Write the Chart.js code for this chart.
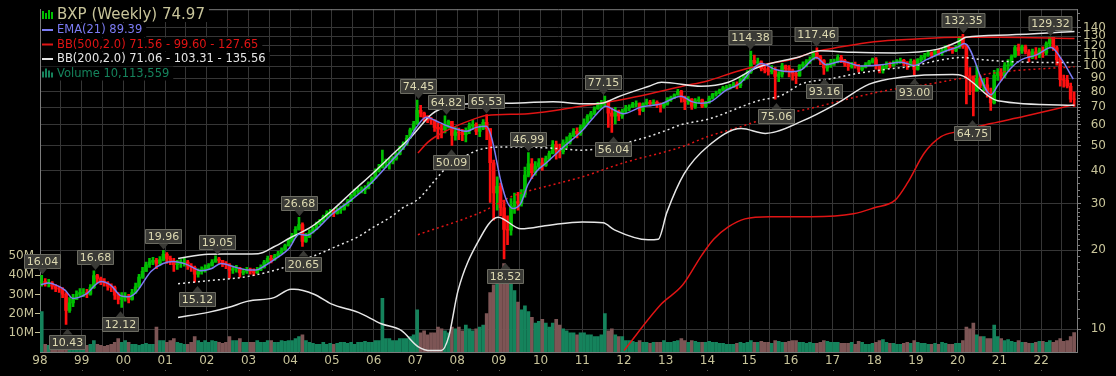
<!DOCTYPE html>
<html>
<head>
<meta charset="utf-8">
<script src="https://cdn.jsdelivr.net/npm/chart.js@4"></script>
<style>
  html, body { margin: 0; padding: 0; background: #000; }
  #wrap { width: 1116px; height: 376px; }
</style>
</head>
<body>
<div id="wrap"><canvas id="chart"></canvas></div>
<script>
const startYear = 1998;

const closes = [
  15.2, 15.0, 15.0, 14.6, 14.3, 14.2, 13.6, 11.8, 12.6, 13.0, 13.6, 13.8,
  13.8, 13.6, 14.4, 16.0, 15.6, 15.2, 15.0, 14.6, 14.4, 13.5, 13.0, 13.2,
  13.3, 13.0, 13.8, 14.5, 15.8, 16.6, 17.6, 18.0, 18.3, 17.8, 18.4, 19.3,
  18.6, 18.2, 17.6, 17.8, 17.9, 18.0, 17.4, 17.2, 16.2, 16.6, 16.9, 17.1,
  17.5, 18.0, 18.5, 18.3, 17.8, 17.6, 16.8, 17.0, 17.1, 16.4, 16.6, 16.8,
  16.6, 16.4, 16.8, 17.2, 18.0, 18.6, 18.4, 19.0, 19.4, 20.0, 20.8, 21.6,
  22.6, 24.0, 25.0, 21.6, 22.6, 23.4, 24.0, 25.2, 25.8, 26.8, 27.6, 28.0,
  27.6, 28.4, 28.6, 29.6, 30.8, 32.2, 33.4, 33.8, 34.0, 34.4, 36.0, 37.6,
  40.0, 41.2, 42.8, 43.0, 43.4, 44.6, 46.2, 48.8, 50.6, 53.4, 57.4, 60.4,
  68.0, 66.4, 64.0, 63.0, 62.4, 58.6, 57.8, 57.4, 60.0, 61.8, 54.6, 56.2,
  56.0, 55.0, 56.8, 59.4, 60.2, 56.6, 58.2, 61.2, 58.0, 43.0, 33.0, 35.0,
  29.0, 24.0, 23.8, 29.4, 30.6, 30.2, 32.6, 38.6, 42.6, 39.4, 41.6, 43.0,
  42.0, 44.6, 46.6, 50.4, 48.0, 47.4, 51.2, 51.6, 54.6, 56.6, 55.4, 58.6,
  61.0, 64.6, 66.4, 69.0, 71.6, 72.4, 73.4, 66.4, 64.6, 67.4, 64.8, 67.6,
  69.4, 70.0, 71.8, 72.2, 68.0, 72.0, 73.2, 72.0, 73.0, 71.6, 70.6, 72.0,
  75.0, 76.0, 78.0, 80.4, 75.6, 73.4, 75.0, 70.4, 74.0, 74.6, 70.6, 72.8,
  75.6, 78.4, 79.2, 81.0, 82.8, 83.0, 83.4, 85.6, 84.4, 89.0, 91.6, 95.0,
  105.4, 103.0, 104.0, 98.0, 97.0, 95.4, 96.6, 91.6, 93.4, 100.4, 98.0, 96.4,
  94.0, 92.0, 100.6, 102.0, 104.6, 106.2, 112.4, 108.6, 105.2, 98.6, 101.0, 103.6,
  104.0, 108.0, 105.4, 102.6, 99.8, 101.4, 100.6, 97.4, 99.2, 101.6, 104.0, 106.2,
  100.6, 96.4, 99.8, 101.2, 100.8, 103.2, 104.6, 105.4, 102.6, 101.0, 104.4, 97.4,
  106.0, 108.4, 110.2, 112.6, 110.6, 114.0, 112.6, 114.8, 118.0, 117.6, 115.0, 118.4,
  128.0, 119.0, 92.0, 90.6, 80.4, 90.0, 84.6, 85.0, 79.0, 72.6, 92.4, 94.6,
  92.0, 100.6, 101.4, 109.0, 117.8, 114.6, 118.6, 113.6, 108.4, 113.6, 110.4, 115.2,
  112.4, 122.0, 128.8, 117.6, 106.0, 89.0, 88.6, 84.0, 75.0, 74.97
];

const highs = [
  16.04, 15.6, 15.5, 15.2, 14.8, 14.6, 14.4, 13.8, 13.2, 13.6, 14.0, 14.3,
  14.3, 14.2, 14.8, 16.68, 16.2, 15.8, 15.6, 15.2, 14.9, 14.6, 13.8, 13.8,
  13.8, 13.6, 14.2, 15.0, 16.2, 17.2, 18.0, 18.6, 18.8, 18.6, 18.9, 19.96,
  19.6, 19.0, 18.6, 18.3, 18.4, 18.6, 18.3, 17.8, 17.4, 17.0, 17.3, 17.6,
  17.8, 18.4, 19.05, 18.8, 18.3, 18.1, 17.8, 17.4, 17.5, 17.2, 17.0, 17.2,
  17.1, 17.0, 17.2, 17.6, 18.3, 19.0, 19.1, 19.3, 19.8, 20.4, 21.1, 22.0,
  23.2, 24.6, 26.68, 25.4, 23.2, 23.9, 24.5, 25.6, 26.2, 27.2, 28.2, 28.6,
  28.6, 29.0, 29.4, 30.0, 31.2, 32.6, 34.0, 34.6, 34.8, 35.2, 36.4, 38.0,
  40.8, 42.4, 48.0, 44.4, 44.8, 45.4, 47.0, 49.6, 51.6, 54.6, 58.2, 61.8,
  74.45, 71.0, 67.0, 65.0, 64.0, 62.6, 61.0, 60.2, 64.82, 62.4, 60.8, 58.6,
  58.2, 57.6, 58.4, 61.0, 62.4, 61.0, 60.0, 62.8, 65.53, 58.0, 44.0, 38.0,
  36.0, 31.0, 27.0, 31.4, 33.0, 33.2, 34.0, 41.4, 46.99, 44.6, 43.4, 44.6,
  44.8, 45.6, 47.6, 52.2, 52.0, 50.6, 52.6, 54.0, 55.8, 58.0, 58.4, 59.8,
  63.2, 65.6, 67.4, 70.2, 73.0, 74.2, 77.15, 74.0, 69.4, 69.8, 68.2, 68.8,
  71.0, 71.4, 73.0, 74.0, 72.6, 72.6, 75.0, 74.2, 74.6, 74.0, 72.6, 73.0,
  76.0, 77.0, 78.6, 81.8, 81.0, 77.0, 76.8, 75.4, 75.4, 76.6, 75.0, 73.6,
  77.0, 79.0, 80.6, 82.0, 84.0, 84.6, 85.4, 87.2, 87.4, 90.4, 93.2, 96.4,
  114.38, 110.4, 107.4, 105.0, 101.0, 99.8, 100.6, 99.0, 95.6, 102.6, 101.0, 100.6,
  97.6, 95.0, 101.6, 104.0, 106.0, 108.6, 114.6, 117.46, 110.2, 106.0, 102.6, 106.4,
  106.6, 110.6, 110.0, 106.4, 104.0, 103.6, 103.8, 101.8, 100.6, 103.4, 105.4, 107.4,
  108.0, 101.4, 101.0, 104.0, 103.8, 105.0, 106.2, 107.4, 106.4, 104.2, 106.6, 105.8,
  107.0, 110.0, 112.0, 115.0, 113.6, 115.4, 116.0, 116.6, 120.0, 120.6, 118.4, 120.2,
  130.0, 132.35, 121.0, 99.0, 92.0, 100.4, 92.0, 89.8, 90.6, 82.6, 96.6, 98.0,
  98.0, 103.4, 106.0, 110.6, 120.0, 121.6, 120.4, 120.4, 115.8, 116.4, 117.8, 117.2,
  118.6, 124.0, 129.32, 129.0, 119.4, 108.0, 92.6, 92.4, 86.4, 80.0
];

const lows = [
  14.6, 14.6, 14.5, 14.2, 13.9, 13.8, 13.2, 10.43, 11.6, 12.2, 13.0, 13.3,
  13.3, 13.2, 13.5, 14.3, 15.0, 14.8, 14.6, 14.1, 13.9, 13.0, 12.5, 12.12,
  12.8, 12.6, 12.9, 13.7, 14.4, 15.6, 16.6, 17.2, 17.6, 17.0, 17.5, 18.2,
  17.8, 17.6, 16.6, 16.9, 17.2, 17.4, 16.9, 16.6, 15.12, 15.8, 16.2, 16.5,
  16.9, 17.4, 18.0, 17.8, 17.3, 17.0, 15.6, 16.3, 16.5, 15.8, 16.1, 16.3,
  16.2, 16.0, 16.3, 16.7, 17.1, 17.8, 17.9, 18.3, 18.8, 19.3, 20.0, 20.7,
  21.4, 22.4, 23.8, 20.65, 21.4, 22.3, 23.2, 24.0, 25.0, 25.6, 26.4, 27.0,
  26.8, 27.4, 27.6, 28.4, 29.4, 30.6, 32.0, 32.8, 33.0, 32.8, 34.2, 35.8,
  37.6, 39.6, 41.0, 41.2, 40.6, 42.6, 44.0, 46.0, 48.2, 50.2, 53.2, 56.8,
  60.2, 64.2, 61.8, 61.0, 60.2, 56.6, 53.0, 53.4, 55.8, 58.2, 50.09, 52.4,
  52.6, 52.2, 51.6, 55.4, 57.6, 55.0, 54.0, 57.4, 52.6, 30.4, 26.0, 28.4,
  27.0, 18.52, 21.0, 22.8, 27.6, 28.4, 29.4, 31.8, 38.0, 37.4, 38.6, 40.8,
  40.2, 41.6, 44.0, 46.4, 44.4, 44.8, 46.4, 49.0, 50.6, 54.0, 53.4, 54.6,
  58.0, 60.4, 63.0, 65.4, 68.6, 69.0, 70.6, 58.6, 56.04, 60.4, 62.2, 63.4,
  66.6, 67.8, 69.6, 70.2, 65.4, 67.2, 71.2, 70.6, 71.0, 69.6, 67.0, 69.4,
  71.2, 73.6, 75.4, 77.6, 73.0, 68.4, 71.6, 68.6, 69.2, 72.2, 69.6, 69.8,
  72.2, 75.0, 77.0, 78.6, 80.6, 81.2, 81.8, 83.0, 82.0, 83.0, 88.2, 89.6,
  94.0, 101.6, 100.4, 96.0, 94.4, 92.6, 93.6, 75.06, 87.4, 91.0, 95.2, 91.2,
  88.6, 86.0, 91.6, 98.2, 99.4, 102.6, 105.8, 106.8, 101.4, 93.16, 95.8, 99.0,
  100.8, 103.0, 103.2, 100.0, 96.4, 98.4, 98.4, 95.0, 96.0, 98.6, 100.8, 102.8,
  97.6, 94.4, 94.2, 97.8, 98.6, 100.0, 102.0, 102.6, 100.6, 97.4, 100.0, 93.00,
  96.6, 104.0, 106.0, 109.0, 107.6, 109.4, 110.6, 110.0, 113.4, 114.4, 112.0, 113.6,
  117.0, 117.0, 72.0, 78.0, 64.75, 80.6, 83.0, 80.6, 76.4, 68.0, 72.0, 88.4,
  88.4, 90.6, 96.0, 100.4, 108.0, 110.0, 112.0, 111.4, 104.0, 107.0, 106.4, 107.8,
  108.0, 110.4, 118.4, 115.0, 101.0, 84.0, 83.4, 82.8, 73.0, 70.4
];

// weekly volume, millions
const volumes = [
  21, 4, 3.5, 3, 3.5, 3, 3.5, 6, 5, 4, 3.5, 3,
  3, 3.5, 4, 6, 4, 3.5, 3, 3.5, 4, 5, 7, 5,
  6, 5, 4, 4, 3.5, 4, 4.5, 4, 4, 13, 6, 6,
  5, 6, 7, 5, 4.5, 4, 4, 5, 8, 6, 5, 6,
  5, 6, 5.5, 5, 4.5, 5, 8, 6, 6, 7, 5, 5,
  5, 5, 6, 5, 5, 6, 6, 5, 5, 6, 5.5, 6,
  6, 7, 8, 9, 6, 5, 4.5, 4, 4, 5, 4, 4.5,
  4, 4.5, 5, 5, 4.5, 5, 4, 5, 5, 5.5, 5, 5,
  6, 6, 28, 7, 7, 6, 6, 7, 7, 7, 8, 9,
  22, 10, 11, 9, 10, 10, 13, 12, 11, 10, 13, 12,
  13, 11, 14, 12, 11, 12, 13, 14, 20, 31, 35, 38,
  36, 46, 44, 40, 32, 26, 22, 24, 21, 18, 15, 16,
  17, 15, 13, 15, 17, 14, 12, 11, 10, 10, 9, 10,
  10, 9, 9, 8, 8, 9, 20, 11, 12, 9, 8, 8,
  6, 6, 5.5, 5, 6, 5, 5, 4.5, 5, 5, 5, 6,
  5, 5, 5.5, 6, 7, 6, 5, 6, 5.5, 5, 5, 5,
  5.5, 5, 5, 4.5, 4.5, 4, 4, 4, 4.5, 5, 4.5, 5,
  6, 5, 5, 5.5, 5, 5, 4.5, 6, 5.5, 5, 5, 5.5,
  6, 6, 5, 5, 4.5, 5, 4.5, 4.5, 5, 6, 5.5, 5,
  5, 5, 4.5, 4.5, 4.5, 5, 4, 5.5, 5, 4, 4, 4.5,
  5, 6, 6.5, 5, 4.5, 4.5, 4, 4, 4.5, 5, 4.5, 6,
  5, 4.5, 4.5, 4, 4, 4.5, 4, 5, 4.5, 4, 4, 4.5,
  4.5, 6, 13, 12, 15, 9, 8, 8, 7, 7, 14, 8,
  7, 6, 6.5, 5.5, 5, 6, 5, 5, 4.5, 4.5, 5, 5.5,
  5.5, 5, 6, 5, 6, 7, 5.5, 6, 8, 10.1
];
const lastWeekVolume = 10113559;

// indicator lines, [year, value]
const ema21 = [
  [1998.02, 14.8], [1998.2, 15.0], [1998.4, 14.7], [1998.6, 14.1], [1998.79, 13.1], [1999.1, 13.6],
  [1999.46, 15.2], [1999.7, 14.7], [1999.94, 13.4], [2000.13, 13.3], [2000.3, 13.8], [2000.66, 16.6],
  [2000.95, 17.8], [2001.19, 18.1], [2001.5, 17.7], [2001.86, 16.7], [2002.1, 17.0], [2002.34, 17.8],
  [2002.7, 17.2], [2003.01, 16.8], [2003.18, 16.8], [2003.35, 17.3], [2003.66, 18.6], [2003.98, 20.4],
  [2004.21, 23.0], [2004.4, 22.8], [2004.6, 23.8], [2005.0, 27.4], [2005.46, 31.0], [2005.94, 36.0],
  [2006.42, 43.6], [2006.78, 50.5], [2007.02, 58.5], [2007.26, 64.0], [2007.5, 62.0], [2007.74, 59.6],
  [2007.98, 57.8], [2008.22, 56.6], [2008.46, 58.6], [2008.7, 59.2], [2008.82, 54.0], [2009.05, 36.5],
  [2009.2, 30.5], [2009.34, 28.8], [2009.53, 30.2], [2009.7, 35.6], [2009.9, 39.8], [2010.14, 43.0],
  [2010.5, 48.6], [2011.0, 57.0], [2011.33, 65.5], [2011.57, 70.5], [2011.74, 68.5], [2011.98, 66.0],
  [2012.41, 70.0], [2012.89, 72.0], [2013.37, 77.0], [2013.61, 73.6], [2013.85, 72.4], [2014.08, 73.4],
  [2014.44, 81.0], [2014.8, 86.6], [2015.04, 96.0], [2015.29, 102.5], [2015.65, 97.0], [2016.01, 95.4],
  [2016.25, 97.0], [2016.61, 108.0], [2016.85, 101.4], [2017.21, 104.6], [2017.69, 100.2], [2018.17, 101.4],
  [2018.65, 103.6], [2018.96, 100.8], [2019.25, 106.0], [2019.73, 114.6], [2020.01, 118.6], [2020.16, 122.0],
  [2020.8, 78.0], [2020.97, 85.0], [2021.29, 99.0], [2021.53, 106.0], [2021.89, 110.5], [2022.24, 118.0],
  [2022.48, 107.0], [2022.77, 89.39]
];

const bb500Upper = [
  [2007.06, 46.8], [2007.3, 51.5], [2007.7, 56.5], [2008.4, 63], [2008.7, 65], [2009.7, 66],
  [2011.0, 70.6], [2012.0, 75], [2012.6, 78.5], [2013.4, 84], [2014.0, 88], [2014.7, 95.6],
  [2015.4, 102], [2016.0, 106], [2016.6, 114], [2017.0, 117], [2018.0, 124], [2019.0, 127],
  [2020.0, 129], [2021.0, 129], [2022.8, 127.65]
];
const bb500Mid = [
  [2007.06, 22.9], [2008.58, 27.9], [2009.37, 32.3], [2010.0, 34.5], [2011.0, 38], [2012.0, 43],
  [2013.4, 49.5], [2014.0, 54], [2014.8, 59], [2015.77, 66], [2016.25, 68], [2017.5, 76],
  [2018.3, 81], [2019.2, 85], [2020.0, 89.5], [2021.0, 95], [2022.8, 99.6]
];
const bb500Lower = [
  [2012.0, 8.3], [2012.9, 12.5], [2013.4, 14.7], [2013.87, 19.2], [2014.15, 22], [2014.5, 24.5],
  [2014.9, 26.3], [2015.5, 26.8], [2016.5, 26.8], [2017.5, 27.5], [2018.0, 29], [2018.5, 31],
  [2018.8, 36.1], [2019.2, 46.8], [2019.6, 54], [2020.0, 56.5], [2020.8, 60.6], [2021.6, 64.6],
  [2022.8, 71.56]
];

const bb200Upper = [
  [2001.31, 18.6], [2002.03, 19.3], [2003.23, 19.4], [2003.61, 20.6], [2004.0, 22.3], [2004.5, 24.5],
  [2005.0, 28.3], [2005.5, 33.5], [2006.0, 39.5], [2006.5, 47], [2006.9, 54], [2007.4, 66],
  [2007.8, 70.6], [2008.3, 72], [2009.5, 72.6], [2010.3, 73.4], [2011.0, 72], [2011.5, 72.6],
  [2011.85, 76.5], [2012.6, 84], [2012.9, 87], [2013.85, 84], [2014.5, 87], [2015.2, 99],
  [2016.2, 108.6], [2016.7, 114.5], [2017.5, 113], [2018.5, 112.5], [2019.5, 116], [2020.0, 124],
  [2020.2, 129], [2021.2, 131.6], [2022.8, 135.56]
];
const bb200Mid = [
  [2001.31, 14.9], [2002.03, 15.3], [2002.99, 15.9], [2003.95, 17.4], [2004.26, 18.3], [2004.67, 19.3],
  [2005.05, 20.5], [2005.63, 22.5], [2006.0, 24.5], [2006.42, 26.8], [2006.7, 29], [2007.06, 31.2],
  [2007.54, 38], [2007.78, 41.8], [2008.02, 44], [2008.5, 48], [2008.98, 49.3], [2009.6, 49.3],
  [2010.5, 48.6], [2010.97, 48], [2011.5, 49], [2012.0, 51], [2012.58, 54], [2013.0, 57],
  [2013.37, 60], [2014.02, 63], [2015.22, 74], [2015.77, 77.5], [2016.25, 85.6], [2017.0, 90],
  [2017.6, 94], [2018.3, 97.5], [2018.96, 100.5], [2019.5, 105], [2020.1, 108], [2020.6, 106],
  [2021.36, 104], [2022.8, 103.31]
];
const bb200Lower = [
  [2001.31, 11.1], [2002.03, 11.6], [2002.51, 12.1], [2002.99, 12.8], [2003.61, 13.2], [2004.02, 14.2],
  [2004.09, 14.2], [2004.57, 13.6], [2004.98, 12.5], [2005.63, 11.6], [2006.18, 10.5], [2006.66, 9.9],
  [2007.06, 8.6], [2007.38, 8.3], [2007.62, 8.3], [2007.8, 9.4], [2008.02, 14], [2008.5, 21.5],
  [2008.98, 26.7], [2009.53, 24.1], [2010.21, 24.9], [2011.0, 25.6], [2011.5, 25.4], [2011.77, 23.9],
  [2012.58, 21.9], [2012.82, 22], [2013.03, 27.9], [2013.44, 39], [2014.02, 49.8], [2014.81, 58],
  [2015.39, 55.6], [2016.28, 62], [2017.09, 72], [2017.88, 85.6], [2018.67, 91], [2019.88, 93],
  [2020.12, 92], [2020.96, 74], [2022.8, 71.06]
];

// high / low callouts
const noteDates  = [1998.05, 1999.32, 1998.65, 1999.92, 2000.95, 2002.24, 2001.76, 2004.21, 2004.31,
                    2007.06, 2007.74, 2008.70, 2007.86, 2009.70, 2009.15, 2011.50, 2011.74, 2015.03,
                    2016.61, 2015.65, 2016.80, 2018.96, 2020.13, 2022.22, 2020.35];
const noteValues = [16.04, 16.68, 10.43, 12.12, 19.96, 19.05, 15.12, 26.68, 20.65,
                    74.45, 64.82, 65.53, 50.09, 46.99, 18.52, 77.15, 56.04, 114.38,
                    117.46, 75.06, 93.16, 93.00, 132.35, 129.32, 64.75];
const noteSides  = ['h', 'h', 'l', 'l', 'h', 'h', 'l', 'h', 'l',
                    'h', 'h', 'h', 'l', 'h', 'l', 'h', 'l', 'h',
                    'h', 'l', 'l', 'l', 'h', 'h', 'l'];

const priceTicks = [10, 20, 30, 40, 50, 60, 70, 80, 90, 100, 110, 120, 130, 140];
const minorTicks = [11, 12, 13, 14, 15, 16, 17, 18, 19, 21, 22, 23, 24, 25, 26, 27, 28, 29,
                    32, 34, 36, 38, 42, 44, 46, 48, 52, 54, 56, 58, 62, 64, 66, 68, 72, 74, 76, 78,
                    85, 95, 105, 115, 125, 135, 150, 160];
const volumeTicks = [10, 20, 30, 40, 50];

const TXT = '#c8c49a';
const GRID = '#363636';
const AXIS = '#7c7c7c';
const UP = '#00c000', DOWN = '#ff1010';
const VOL_UP = '#15835c', VOL_DN = '#7d5555';
const EMA_C = '#7c7cf4', BB5_C = '#e01414', BB2_C = '#e6e6e6';
const FONT = 'DejaVu Sans';

const monthX = closes.map((c, i) => startYear + (i + 0.5) / 12);
const opens = closes.map((c, i) => i ? closes[i - 1] : c);
const up = closes.map((c, i) => c >= opens[i]);
const pts = arr => arr.map(p => ({ x: p[0], y: p[1] }));

function lineSet(data, color, dash, order) {
  return {
    type: 'line', data: pts(data), yAxisID: 'yp', borderColor: color, borderWidth: 1.5,
    borderDash: dash, pointRadius: 0, tension: 0.3, cubicInterpolationMode: 'monotone', order: order
  };
}

const overlay = {
  id: 'overlay',
  afterDatasetsDraw(chart) {
    const { ctx, chartArea: a } = chart;
    const xs = chart.scales.x, ys = chart.scales.yp;
    ctx.save();
    ctx.strokeStyle = AXIS;
    ctx.lineWidth = 1;
    ctx.beginPath();
    ctx.moveTo(a.left, a.top + 0.5);
    ctx.lineTo(a.right, a.top + 0.5);
    // minor ticks on the price axis
    minorTicks.forEach(v => {
      const y = Math.round(ys.getPixelForValue(v)) + 0.5;
      ctx.moveTo(a.right, y);
      ctx.lineTo(a.right + 3, y);
    });
    ctx.stroke();
    // small marks under the year labels
    ctx.fillStyle = '#5a5a50';
    for (let yr = startYear; yr <= xs.max; yr++) {
      ctx.fillRect(Math.round(xs.getPixelForValue(yr)), 370, 1, 1);
    }

    // callouts
    ctx.font = '11px "' + FONT + '"';
    ctx.textAlign = 'center';
    ctx.textBaseline = 'middle';
    noteDates.forEach((d, i) => {
      const txt = noteValues[i].toFixed(2);
      const w = Math.round(ctx.measureText(txt).width + 5), h = 14;
      const px = Math.round(xs.getPixelForValue(d)) + 0.5;
      const py = ys.getPixelForValue(noteValues[i]);
      let tip, base, top;
      if (noteSides[i] === 'h') { tip = py - 1; base = py - 7; top = base - h; }
      else { tip = py + 4; base = py + 10; top = base; }
      top = Math.round(top) + 0.5;
      ctx.fillStyle = '#3a3a36';
      ctx.strokeStyle = '#6c6c62';
      ctx.beginPath();
      ctx.rect(px - w / 2, top, w, h);
      ctx.fill();
      ctx.stroke();
      ctx.beginPath();
      ctx.moveTo(px - 5, base);
      ctx.lineTo(px + 5, base);
      ctx.lineTo(px, tip);
      ctx.closePath();
      ctx.fill();
      ctx.fillStyle = '#dedab2';
      ctx.fillText(txt, px, top + h / 2 + 0.5);
    });

    // legend
    const last = arr => arr[arr.length - 1][1].toFixed(2);
    const rows = [
      { t: 'BXP (Weekly) ' + closes[closes.length - 1].toFixed(2), c: TXT, s: 15, y: 15, icon: 'candle' },
      { t: 'EMA(21) ' + last(ema21), c: EMA_C, s: 11.5, y: 30, icon: EMA_C },
      { t: 'BB(500,2.0) ' + last(bb500Lower) + ' - ' + last(bb500Mid) + ' - ' + last(bb500Upper), c: BB5_C, s: 11.5, y: 44.5, icon: BB5_C },
      { t: 'BB(200,2.0) ' + last(bb200Lower) + ' - ' + last(bb200Mid) + ' - ' + last(bb200Upper), c: BB2_C, s: 11.5, y: 59, icon: BB2_C },
      { t: 'Volume ' + lastWeekVolume.toLocaleString('en-US'), c: VOL_UP, s: 11.5, y: 73.5, icon: 'vol' }
    ];
    ctx.textAlign = 'left';
    rows.forEach(r => {
      ctx.font = r.s + 'px "' + FONT + '"';
      const tw = ctx.measureText(r.t).width;
      ctx.fillStyle = '#000';
      ctx.fillRect(a.left + 1, r.y - 7, 58 - a.left + tw + 2, 14);
      if (r.icon === 'candle') {
        ctx.fillStyle = UP;
        [[42, 11, 8], [45, 13, 6], [48, 10, 9], [51, 12, 7]].forEach(b => ctx.fillRect(b[0], b[1], 2, b[2]));
      } else if (r.icon === 'vol') {
        ctx.fillStyle = VOL_UP;
        [[42, r.y - 2, 6], [45, r.y - 5, 9], [48, r.y - 3, 7], [51, r.y - 1, 5]].forEach(b => ctx.fillRect(b[0], b[1], 2, b[2]));
      } else {
        ctx.fillStyle = r.icon;
        ctx.fillRect(42, r.y - 1, 11, 2);
      }
      ctx.fillStyle = r.c;
      ctx.fillText(r.t, 57, r.y + 0.5);
    });
    ctx.restore();
  }
};

new Chart(document.getElementById('chart'), {
  type: 'line',
  data: {
    datasets: [
      lineSet(ema21, EMA_C, [], 0),
      lineSet(bb500Upper, BB5_C, [], 2),
      lineSet(bb500Mid, BB5_C, [2, 3], 2),
      lineSet(bb500Lower, BB5_C, [], 2),
      lineSet(bb200Upper, BB2_C, [], 1),
      lineSet(bb200Mid, BB2_C, [2, 3], 1),
      lineSet(bb200Lower, BB2_C, [], 1),
      {
        type: 'bar', yAxisID: 'yp', grouped: false, barThickness: 3, order: 7,
        data: closes.map((c, i) => ({ x: monthX[i], y: [opens[i], c] })),
        backgroundColor: up.map(u => u ? UP : DOWN)
      },
      {
        type: 'bar', yAxisID: 'yp', grouped: false, barThickness: 2, order: 8,
        data: closes.map((c, i) => ({ x: monthX[i], y: [lows[i], highs[i]] })),
        backgroundColor: up.map(u => u ? UP : DOWN)
      },
      {
        type: 'bar', yAxisID: 'yv', grouped: false, barThickness: 3, order: 9,
        data: volumes.map((v, i) => ({ x: monthX[i], y: v })),
        backgroundColor: up.map(u => u ? VOL_UP : VOL_DN)
      }
    ]
  },
  options: {
    responsive: true,
    maintainAspectRatio: false,
    animation: false,
    devicePixelRatio: 1,
    layout: { padding: { top: 4, right: 10, left: 0, bottom: 0 } },
    plugins: { legend: { display: false }, tooltip: { enabled: false } },
    scales: {
      x: {
        type: 'linear', min: 1998, max: 2022.86, offset: false,
        grid: { color: GRID, offset: false, drawTicks: false },
        border: { color: AXIS },
        ticks: {
          stepSize: 0.5, autoSkip: false, maxRotation: 0, includeBounds: false, padding: 2,
          color: TXT, font: { family: FONT, size: 12 },
          callback: v => Number.isInteger(v) ? String(v % 100).padStart(2, '0') : ''
        },
        afterFit: s => { s.height = 24; }
      },
      yp: {
        type: 'logarithmic', position: 'right', min: 8.2, max: 164.9,
        afterBuildTicks: s => { s.ticks = priceTicks.map(v => ({ value: v })); },
        grid: { color: GRID, tickLength: 4, tickColor: AXIS },
        border: { color: AXIS },
        ticks: {
          color: TXT, font: { family: FONT, size: 12 }, padding: 2, crossAlign: 'far', autoSkip: false,
          callback: v => String(v)
        },
        afterFit: s => { s.width = 29; }
      },
      yv: {
        type: 'linear', position: 'left', min: 0, max: 178.5,
        afterBuildTicks: s => { s.ticks = volumeTicks.map(v => ({ value: v })); },
        grid: { drawOnChartArea: false, tickLength: 5, tickColor: TXT },
        border: { color: AXIS },
        ticks: { color: TXT, font: { family: FONT, size: 12 }, padding: 1, autoSkip: false, callback: v => v + 'M' },
        afterFit: s => { s.width = 40; }
      }
    }
  },
  plugins: [overlay]
});
</script>
</body>
</html>
